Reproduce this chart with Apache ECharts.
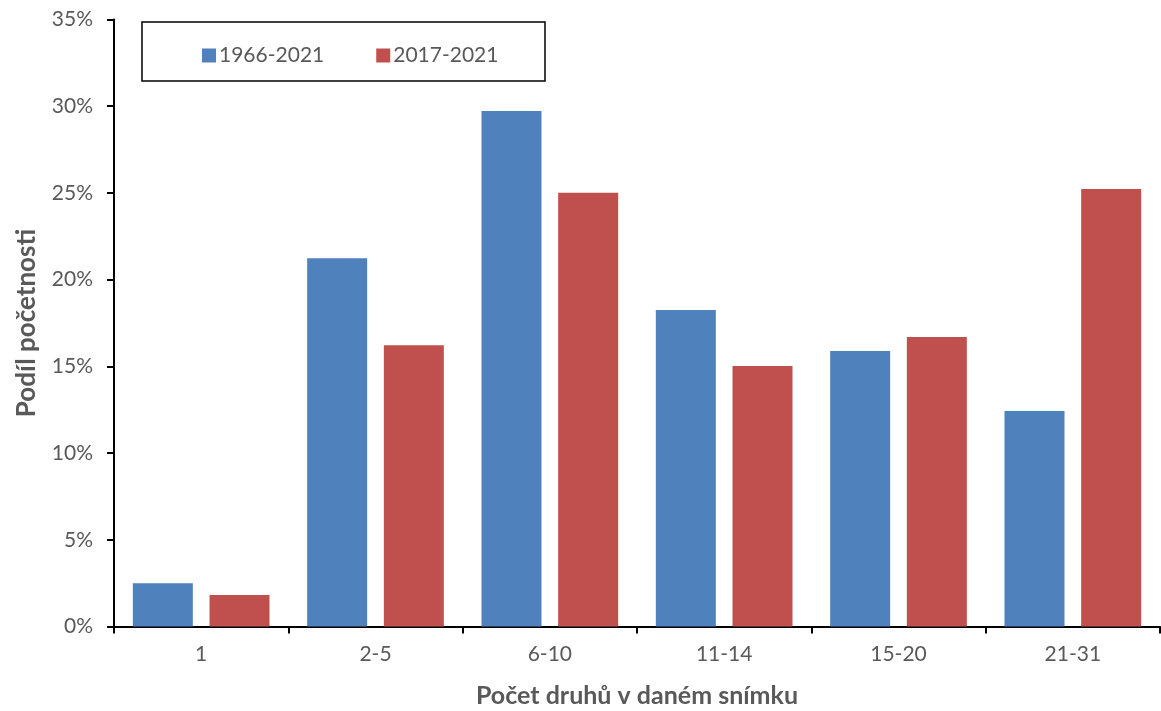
<!DOCTYPE html>
<html>
<head>
<meta charset="utf-8">
<script src="https://cdn.jsdelivr.net/npm/echarts@6/dist/echarts.min.js"></script>
<style>
  html, body { margin: 0; padding: 0; background: #fff; }
  #chart { width: 1161px; height: 711px; }
</style>
</head>
<body>
<div id="chart"></div>
<script>
// Species-count classes per relevé
const categories = ['1', '2-5', '6-10', '11-14', '15-20', '21-31'];
// Share of records (%) per period
const period1966 = [2.49, 21.23, 29.72, 18.25, 15.89, 12.43];
const period2017 = [1.82, 16.21, 25.01, 15.02, 16.69, 25.23];
const seriesNames = ['1966-2021', '2017-2021'];
const yTicks = { min: 0, max: 35, interval: 5 };

const FONT = 'Lato, "Open Sans", sans-serif';
const TEXT = '#595959';

const chart = echarts.init(document.getElementById('chart'), null, { renderer: 'canvas' });
chart.setOption({
  animation: false,
  backgroundColor: '#fff',
  textStyle: { fontFamily: FONT },
  grid: { left: 114, right: 1, top: 19.5, bottom: 84.5, containLabel: false, outerBoundsMode: 'none' },
  graphic: [{
    type: 'rect',
    shape: { x: 142, y: 22, width: 403, height: 59 },
    style: { fill: 'none', stroke: '#000', lineWidth: 1.5 },
    z: 10
  }],
  legend: {
    left: 197, top: 40,
    itemWidth: 14, itemHeight: 14, itemGap: 52,
    icon: 'rect',
    textStyle: { color: TEXT, fontSize: 21, fontFamily: FONT, padding: [0, 0, 0, -2] },
    data: seriesNames
  },
  xAxis: {
    type: 'category',
    data: categories,
    name: 'Počet druhů v daném snímku',
    nameLocation: 'middle',
    nameGap: 57,
    nameTextStyle: { color: TEXT, fontSize: 25, fontWeight: 'bold', fontFamily: FONT },
    axisLine: { lineStyle: { color: '#000', width: 2 } },
    axisTick: { show: true, inside: false, length: 7, lineStyle: { color: '#000', width: 2 } },
    axisLabel: { color: TEXT, fontSize: 21, margin: 17, fontFamily: FONT }
  },
  yAxis: {
    type: 'value',
    min: yTicks.min, max: yTicks.max, interval: yTicks.interval,
    name: 'Podíl početnosti',
    nameLocation: 'middle',
    nameGap: 74,
    nameRotate: 90,
    nameTextStyle: { color: TEXT, fontSize: 26, fontWeight: 'bold', fontFamily: FONT },
    splitLine: { show: false },
    axisLine: { show: true, lineStyle: { color: '#000', width: 2 } },
    axisTick: { show: true, inside: false, length: 7, lineStyle: { color: '#000', width: 2 } },
    axisLabel: { color: TEXT, fontSize: 21, margin: 21, fontFamily: FONT, formatter: v => v + '%' }
  },
  series: [
    {
      name: seriesNames[0], type: 'bar', data: period1966,
      itemStyle: { color: '#4F81BD' },
      barCategoryGap: '21.6%', barGap: '27.8%'
    },
    {
      name: seriesNames[1], type: 'bar', data: period2017,
      itemStyle: { color: '#C0504D' },
      barCategoryGap: '21.6%', barGap: '27.8%'
    }
  ]
});
</script>
</body>
</html>
